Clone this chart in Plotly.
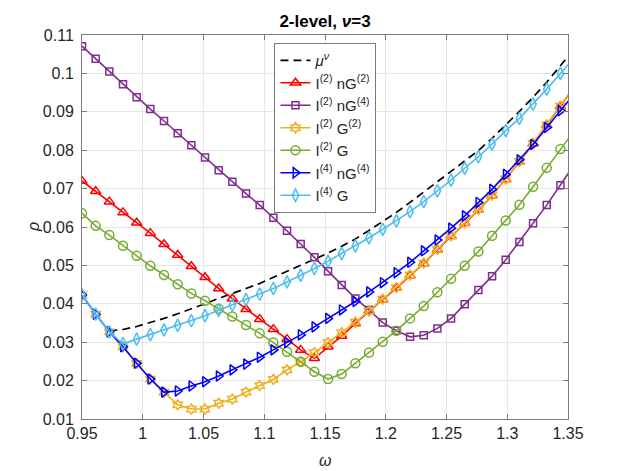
import plotly.graph_objects as go

# omega grid (step 0.01125, last point lies just past the axis limit)
omega = [0.95, 0.96125, 0.9725, 0.98375, 0.995, 1.00625, 1.0175, 1.02875, 1.04,
         1.05125, 1.0625, 1.07375, 1.085, 1.09625, 1.1075, 1.11875, 1.13, 1.14125,
         1.1525, 1.16375, 1.175, 1.18625, 1.1975, 1.20875, 1.22, 1.23125, 1.2425,
         1.25375, 1.265, 1.27625, 1.2875, 1.29875, 1.31, 1.32125, 1.3325, 1.34375,
         1.355]

mu_nu = [None, None, 0.0330, 0.0333, 0.0341, 0.0351, 0.0362, 0.0374, 0.0386,
         0.0400, 0.0414, 0.0428, 0.0440, 0.0453, 0.0469, 0.0485, 0.0500, 0.0515,
         0.0532, 0.0550, 0.0569, 0.0591, 0.0614, 0.0638, 0.0664, 0.0690, 0.0718,
         0.0745, 0.0772, 0.0799, 0.0831, 0.0865, 0.0901, 0.0938, 0.0977, 0.1020,
         0.1064]

i2_ng2 = [0.0720, 0.0693, 0.0666, 0.0638, 0.0611, 0.0584, 0.0555, 0.0527, 0.0498,
          0.0469, 0.0440, 0.0413, 0.0386, 0.0360, 0.0334, 0.0308, 0.0280, 0.0258,
          0.0288, 0.0316, 0.0349, 0.0381, 0.0411, 0.0441, 0.0474, 0.0505, 0.0541,
          0.0576, 0.0610, 0.0644, 0.0682, 0.0724, 0.0769, 0.0817, 0.0865, 0.0914,
          0.0964]

i2_ng4 = [0.1071, 0.1038, 0.1005, 0.0972, 0.0938, 0.0907, 0.0876, 0.0844, 0.0813,
          0.0781, 0.0748, 0.0718, 0.0687, 0.0657, 0.0624, 0.0590, 0.0556, 0.0521,
          0.0485, 0.0449, 0.0414, 0.0384, 0.0351, 0.0330, 0.0314, 0.0318, 0.0336,
          0.0362, 0.0399, 0.0436, 0.0472, 0.0515, 0.0561, 0.0610, 0.0657, 0.0709,
          0.0762]

i2_g2 = [0.0423, 0.0373, 0.0327, 0.0288, 0.0245, 0.0204, 0.0170, 0.0137, 0.0126,
         0.0126, 0.0141, 0.0152, 0.0170, 0.0187, 0.0203, 0.0228, 0.0249, 0.0273,
         0.0299, 0.0325, 0.0352, 0.0381, 0.0412, 0.0442, 0.0475, 0.0506, 0.0542,
         0.0577, 0.0611, 0.0645, 0.0683, 0.0725, 0.0770, 0.0818, 0.0866, 0.0915,
         0.0965]

i2_g = [0.0636, 0.0603, 0.0579, 0.0551, 0.0525, 0.0499, 0.0475, 0.0451, 0.0427,
        0.0408, 0.0387, 0.0367, 0.0345, 0.0323, 0.0299, 0.0275, 0.0249, 0.0223,
        0.0204, 0.0217, 0.0245, 0.0273, 0.0301, 0.0330, 0.0362, 0.0394, 0.0430,
        0.0465, 0.0499, 0.0536, 0.0577, 0.0617, 0.0658, 0.0705, 0.0754, 0.0803,
        0.0850]

i4_ng4 = [0.0423, 0.0373, 0.0327, 0.0288, 0.0245, 0.0204, 0.0170, 0.0173, 0.0186,
          0.0197, 0.0212, 0.0228, 0.0243, 0.0261, 0.0280, 0.0299, 0.0319, 0.0340,
          0.0362, 0.0384, 0.0406, 0.0431, 0.0455, 0.0481, 0.0508, 0.0538, 0.0566,
          0.0597, 0.0629, 0.0664, 0.0698, 0.0737, 0.0775, 0.0815, 0.0859, 0.0903,
          0.0946]

i4_g = [0.0423, 0.0373, 0.0327, 0.0296, 0.0308, 0.0320, 0.0332, 0.0344, 0.0356,
        0.0369, 0.0383, 0.0397, 0.0411, 0.0425, 0.0440, 0.0457, 0.0474, 0.0492,
        0.0511, 0.0531, 0.0551, 0.0572, 0.0594, 0.0616, 0.0640, 0.0666, 0.0694,
        0.0722, 0.0753, 0.0783, 0.0816, 0.0851, 0.0883, 0.0920, 0.0959, 0.1000,
        0.1040]

x_ticks = [0.95, 1.0, 1.05, 1.1, 1.15, 1.2, 1.25, 1.3, 1.35]
x_ticktext = ["0.95", "1", "1.05", "1.1", "1.15", "1.2", "1.25", "1.3", "1.35"]
y_ticks = [0.01, 0.02, 0.03, 0.04, 0.05, 0.06, 0.07, 0.08, 0.09, 0.1, 0.11]
y_ticktext = ["0.01", "0.02", "0.03", "0.04", "0.05", "0.06", "0.07", "0.08",
              "0.09", "0.1", "0.11"]

FONT = "Liberation Sans, Arial, Helvetica, sans-serif"
AXIS_COL = "#7a7a7a"
TEXT_COL = "#262626"

# (label, values, colour, marker symbol, marker size)
series = [
    ("I<sup>(2)</sup> nG<sup>(2)</sup>", i2_ng2, "#ff0000", "triangle-up-open", 9),
    ("I<sup>(2)</sup> nG<sup>(4)</sup>", i2_ng4, "#7e2f8e", "square-open", 7),
    ("I<sup>(2)</sup> G<sup>(2)</sup>", i2_g2, "#edb120", "hexagram-open", 8),
    ("I<sup>(2)</sup> G", i2_g, "#77ac30", "circle-open", 9),
    ("I<sup>(4)</sup> nG<sup>(4)</sup>", i4_ng4, "#0000ff", "triangle-right-open", 9),
    ("I<sup>(4)</sup> G", i4_g, "#4dbeee", "diamond-tall-open", 9),
]

fig = go.Figure()

fig.add_trace(go.Scatter(
    x=omega, y=mu_nu, mode="lines", name="<i>μ</i><sup><i>ν</i></sup>",
    line=dict(color="black", width=1.7, dash="8px,5px"),
))

for name, vals, col, sym, size in series:
    fig.add_trace(go.Scatter(
        x=omega, y=vals, mode="lines+markers", name=name,
        line=dict(color=col, width=1.6),
        marker=dict(symbol=sym, size=size, color=col, line=dict(width=1.5, color=col)),
    ))

W, H = 628, 471
fig.update_layout(
    width=W, height=H,
    margin=dict(l=82, r=60, t=35, b=52, autoexpand=False),
    paper_bgcolor="white", plot_bgcolor="white",
    font=dict(family=FONT, size=16, color=TEXT_COL),
    title=dict(text="<b>2-level, <i>ν</i>=3</b>", x=0.5, xref="paper",
               y=1 - 21 / H, yanchor="middle", font=dict(size=17, color="black")),
    legend=dict(x=0.396, y=0.979, xanchor="left", yanchor="top",
                bgcolor="white", bordercolor=AXIS_COL, borderwidth=1,
                font=dict(size=15, color=TEXT_COL), tracegroupgap=0),
    showlegend=True,
)

# axis titles placed as annotations so they do not push the margins
fig.add_annotation(text="<i>ω</i>", xref="paper", yref="paper", x=0.5, y=-0.107,
                   yanchor="middle", showarrow=False, font=dict(size=16))
fig.add_annotation(text="<i>ρ</i>", xref="paper", yref="paper", x=-0.101, y=0.5,
                   xanchor="center", yanchor="middle", textangle=-90,
                   showarrow=False, font=dict(size=16))

fig.update_xaxes(
    range=[0.95, 1.35], tickvals=x_ticks, ticktext=x_ticktext, automargin=False,
    showgrid=True, gridcolor="#e6e6e6", gridwidth=1, zeroline=False,
    showline=True, linecolor=AXIS_COL, linewidth=1, mirror="ticks",
    ticks="inside", ticklen=5, tickcolor=AXIS_COL,
)
fig.update_yaxes(
    range=[0.01, 0.11], tickvals=y_ticks, ticktext=y_ticktext, automargin=False,
    showgrid=True, gridcolor="#e6e6e6", gridwidth=1, zeroline=False,
    showline=True, linecolor=AXIS_COL, linewidth=1, mirror="ticks",
    ticks="inside", ticklen=5, tickcolor=AXIS_COL, ticklabelstandoff=4,
)

# drop the browser's default 8px body margin so the figure fills the window
fig.write_html("out.html", config={"displayModeBar": False},
               post_script="document.body.style.margin='0';")
